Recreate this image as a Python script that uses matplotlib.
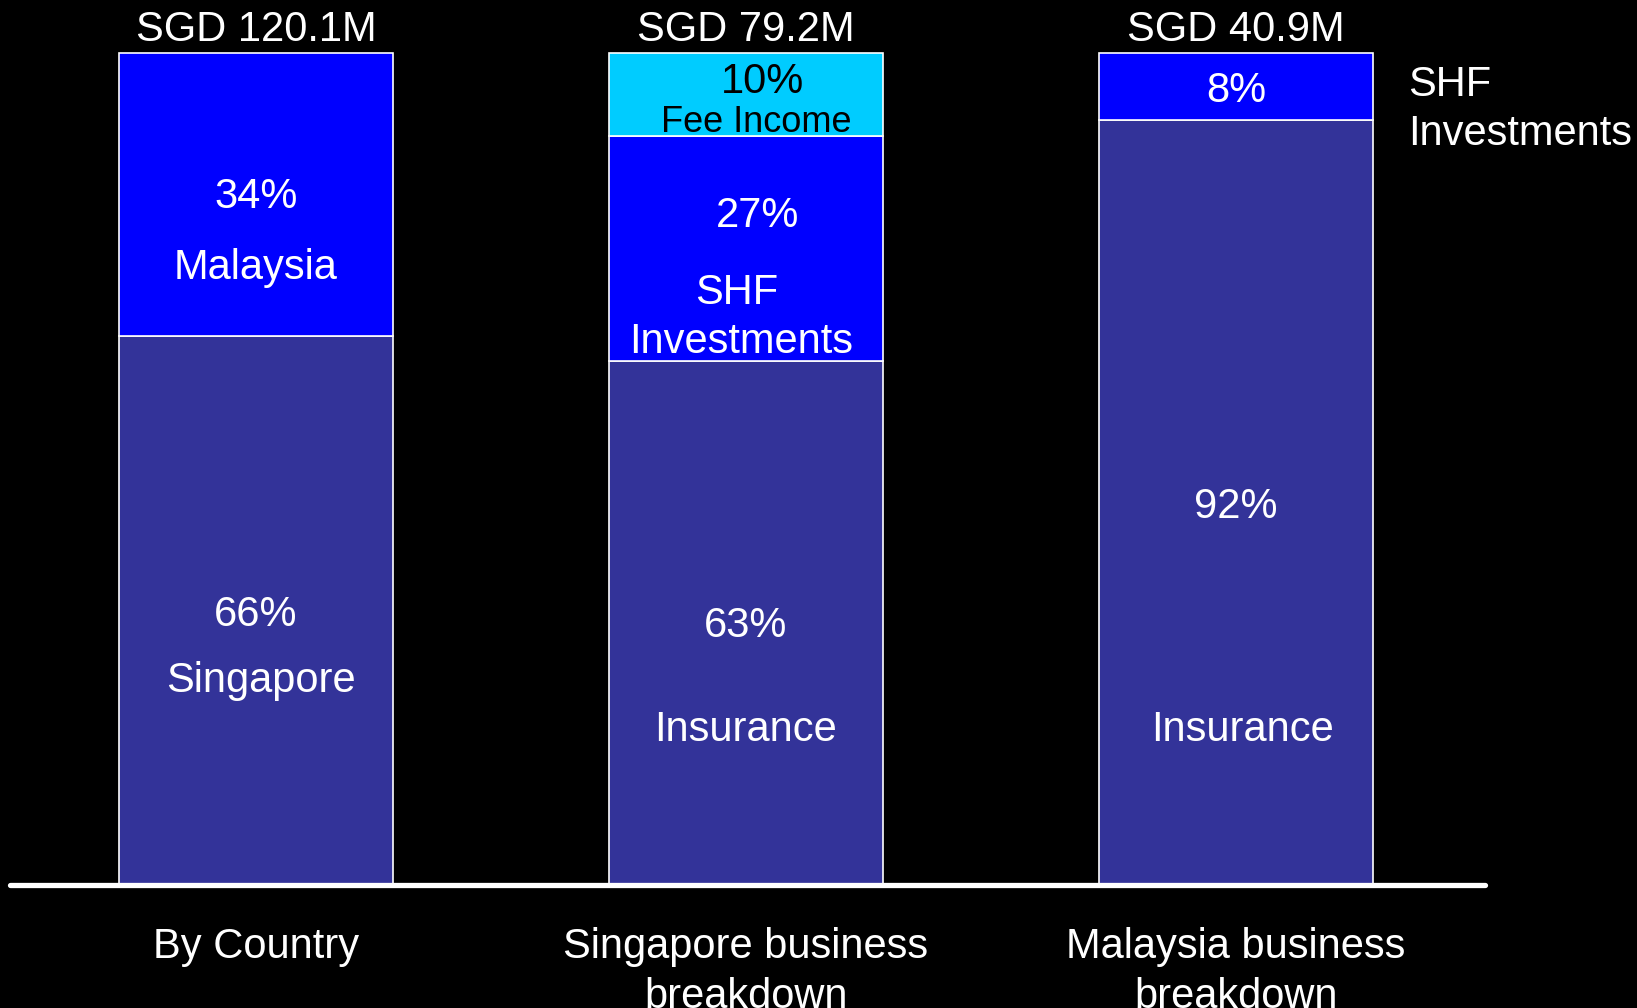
import matplotlib.pyplot as plt

plt.rcParams["font.family"] = ["Liberation Sans", "DejaVu Sans"]

# data (percent of each bar)
groups = ["By Country", "Singapore business\nbreakdown", "Malaysia business\nbreakdown"]
totals = ["SGD 120.1M", "SGD 79.2M", "SGD 40.9M"]
bottom_seg = [66, 63, 92]      # Singapore / Insurance / Insurance
middle_seg = [34, 27, 8]       # Malaysia / SHF Investments / SHF Investments
top_seg = [0, 10, 0]           # Fee Income

navy = "#333399"
blue = "#0000FF"
cyan = "#00CCFF"

fig = plt.figure(figsize=(16.37, 10.08), dpi=100, facecolor="black")
ax = fig.add_axes([0, 0, 1, 1])
ax.set_facecolor("black")
ax.set_xlim(-0.522, 2.818)
ax.set_ylim(-14.78, 106.37)
ax.axis("off")

x = range(len(groups))
w = 0.56
ax.bar(x, bottom_seg, w, color=navy, edgecolor="white", linewidth=1.2)
ax.bar(x, middle_seg, w, bottom=bottom_seg, color=blue, edgecolor="white", linewidth=1.2)
tops = [b + m for b, m in zip(bottom_seg, middle_seg)]
ax.bar(x[1:2], top_seg[1:2], w, bottom=tops[1:2], color=cyan, edgecolor="white", linewidth=1.2)

# baseline
ax.axhline(0, xmin=0.006, xmax=0.907, color="white", linewidth=3.8, solid_capstyle="round", zorder=5)

fs = 30
dy = -0.4  # small nudge so glyph centres sit like the original


def label(xp, yp, s, **kw):
    kw.setdefault("color", "white")
    kw.setdefault("fontsize", fs)
    kw.setdefault("ha", "center")
    ax.text(xp, yp + dy, s, va="center", **kw)


for i, t in enumerate(totals):
    label(i, 103.2, t)

# bar 1
label(0, 83.1, f"{middle_seg[0]}%")
label(0, 74.6, "Malaysia")
label(0, 32.8, f"{bottom_seg[0]}%")
label(0.01, 24.9, "Singapore")

# bar 2
label(1.033, 96.9, f"{top_seg[1]}%", color="black")
label(1.02, 92.1, "Fee Income", color="black", fontsize=26)
label(1.024, 80.8, f"{middle_seg[1]}%")
label(0.98, 71.5, "SHF")
label(0.99, 65.7, "Investments")
label(1.0, 31.5, f"{bottom_seg[1]}%")
label(1.0, 19.0, "Insurance")

# bar 3
label(2.0, 95.8, f"{middle_seg[2]}%")
label(2.0, 45.8, f"{bottom_seg[2]}%")
label(2.014, 19.0, "Insurance")
label(2.351, 96.6, "SHF", ha="left")
label(2.351, 90.7, "Investments", ha="left")

# category labels under the axis
for i, g in enumerate(groups):
    ax.text(i, -5.0, g, color="white", fontsize=fs, ha="center", va="top", linespacing=1.35)

fig.savefig("out.png", dpi=100, facecolor="black")
